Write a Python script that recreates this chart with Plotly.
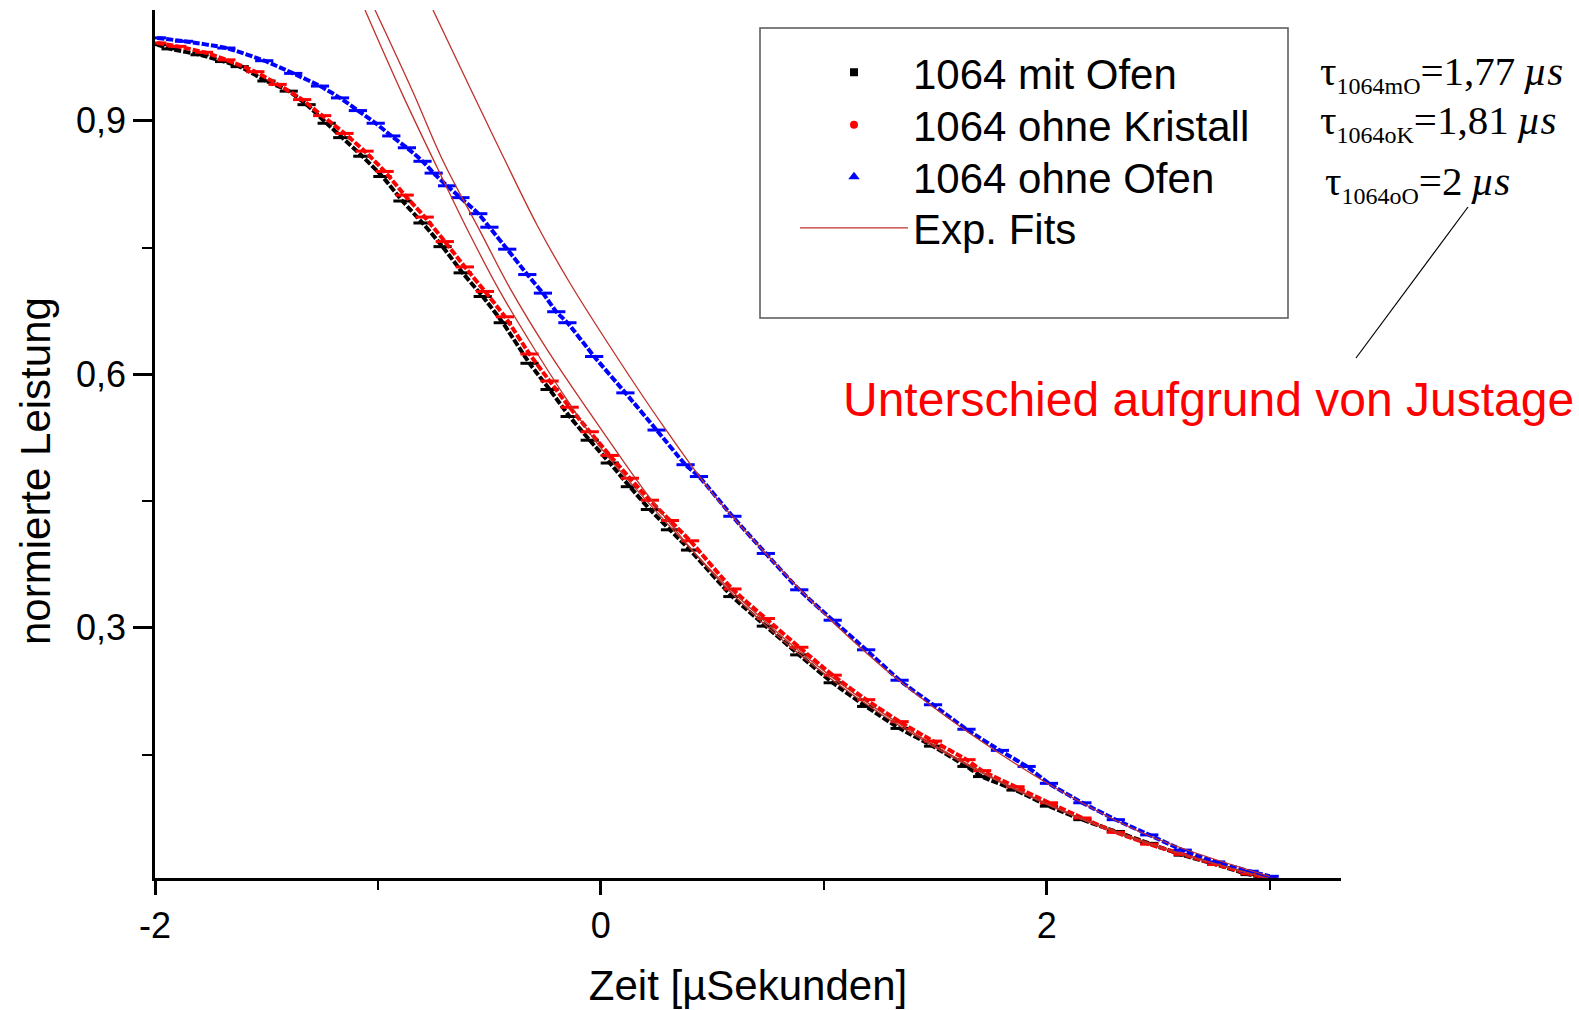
import plotly.graph_objects as go

# ---------------- data ----------------
x_mit_ofen = [-1.99, -1.93, -1.80, -1.69, -1.62, -1.50, -1.40, -1.32, -1.23, -1.16, -1.07,
              -0.98, -0.89, -0.80, -0.71, -0.62, -0.53, -0.44, -0.32, -0.23, -0.14, -0.05,
              0.04, 0.13, 0.22, 0.31, 0.40, 0.59, 0.74, 0.89, 1.04, 1.19, 1.34, 1.49, 1.64,
              1.71, 1.86, 2.01, 2.16, 2.31, 2.46, 2.61, 2.76, 2.91, 2.99]
y_mit_ofen = [0.990, 0.985, 0.978, 0.970, 0.964, 0.947, 0.935, 0.919, 0.897, 0.880, 0.858,
              0.834, 0.805, 0.779, 0.751, 0.720, 0.692, 0.661, 0.613, 0.582, 0.550, 0.522,
              0.495, 0.467, 0.440, 0.416, 0.392, 0.337, 0.302, 0.268, 0.235, 0.207, 0.181,
              0.160, 0.136, 0.124, 0.108, 0.089, 0.073, 0.059, 0.045, 0.031, 0.020, 0.008, 0.004]

x_ohne_kristall = [-1.99, -1.90, -1.78, -1.68, -1.55, -1.45, -1.34, -1.25, -1.15, -1.06, -0.97,
                   -0.88, -0.79, -0.70, -0.61, -0.52, -0.43, -0.32, -0.23, -0.14, -0.05, 0.04,
                   0.13, 0.22, 0.31, 0.40, 0.59, 0.74, 0.89, 1.04, 1.19, 1.34, 1.49, 1.64, 1.71,
                   1.86, 2.01, 2.16, 2.31, 2.46, 2.61, 2.76, 2.91, 2.99]
y_ohne_kristall = [0.992, 0.988, 0.981, 0.972, 0.958, 0.943, 0.925, 0.906, 0.885, 0.864, 0.840,
                   0.812, 0.786, 0.757, 0.727, 0.698, 0.668, 0.624, 0.592, 0.561, 0.532, 0.504,
                   0.477, 0.451, 0.427, 0.403, 0.346, 0.311, 0.277, 0.244, 0.215, 0.189, 0.166,
                   0.144, 0.131, 0.112, 0.093, 0.075, 0.058, 0.044, 0.032, 0.020, 0.009, 0.004]

x_ohne_ofen = [-1.99, -1.87, -1.68, -1.51, -1.38, -1.26, -1.17, -1.09, -1.01, -0.94, -0.87,
               -0.80, -0.75, -0.69, -0.63, -0.55, -0.50, -0.42, -0.33, -0.26, -0.20, -0.15,
               -0.03, 0.11, 0.25, 0.38, 0.44, 0.59, 0.74, 0.89, 1.04, 1.19, 1.34, 1.49, 1.64,
               1.79, 1.91, 2.01, 2.16, 2.31, 2.46, 2.61, 2.76, 2.91, 3.00]
y_ohne_ofen = [0.998, 0.994, 0.986, 0.971, 0.956, 0.941, 0.927, 0.912, 0.897, 0.882, 0.868,
               0.852, 0.838, 0.823, 0.809, 0.790, 0.774, 0.748, 0.718, 0.696, 0.674, 0.661,
               0.621, 0.578, 0.534, 0.493, 0.479, 0.432, 0.388, 0.345, 0.309, 0.274, 0.238,
               0.209, 0.180, 0.155, 0.136, 0.116, 0.093, 0.073, 0.055, 0.037, 0.023, 0.012, 0.006]

# exponential fit curves
x_fit_a = [-1.058, -0.888, -0.735, -0.587, -0.453, -0.296, -0.150, -0.004, 0.22, 0.59, 1.04, 1.49, 2.01, 2.46, 3.00]
y_fit_a = [1.031, 0.930, 0.845, 0.765, 0.698, 0.629, 0.569, 0.514, 0.446, 0.343, 0.241, 0.162, 0.091, 0.045, 0.003]
x_fit_b = [-1.013, -0.843, -0.709, -0.543, -0.408, -0.238, 0.004, 0.251, 0.59, 1.04, 1.49, 2.01, 2.46, 3.00]
y_fit_b = [1.031, 0.934, 0.853, 0.770, 0.702, 0.628, 0.534, 0.443, 0.340, 0.238, 0.160, 0.090, 0.044, 0.003]
x_fit_c = [-0.753, -0.587, -0.439, -0.287, -0.139, 0.063, 0.274, 0.489, 0.74, 1.04, 1.34, 1.64, 2.01, 2.46, 3.00]
y_fit_c = [1.031, 0.939, 0.858, 0.777, 0.708, 0.624, 0.541, 0.463, 0.388, 0.307, 0.237, 0.178, 0.115, 0.054, 0.006]

series_names = ["1064 mit Ofen", "1064 ohne Kristall", "1064 ohne Ofen"]
fit_name = "Exp. Fits"
x_tickvals = [-2, 0, 2]
x_ticktext = ["-2", "0", "2"]
tau_labels = ["τ<sub><span style='font-size:24px'>1064mO</span></sub>=1,77\u2009<i>µs</i>",
              "τ<sub><span style='font-size:24px'>1064oK</span></sub>=1,81\u2009<i>µs</i>",
              "τ<sub><span style='font-size:24px'>1064oO</span></sub>=2\u2009<i>µs</i>"]
note_text = "Unterschied aufgrund von Justage"
x_title = "Zeit [µSekunden]"
y_title = "normierte Leistung"

# ---------------- figure ----------------
SANS = "Liberation Sans, Arial, sans-serif"
SERIF = "Liberation Serif, Times New Roman, serif"
FIT_COLOR = "#c0302a"

fig = go.Figure()

data_sets = [
    (x_mit_ofen, y_mit_ofen, "#000000", "square", 8),
    (x_ohne_kristall, y_ohne_kristall, "#ff0000", "circle", 8),
    (x_ohne_ofen, y_ohne_ofen, "#0000ff", "triangle-up", 10),
]
legend_ids = ["legend", "legend2", "legend3", "legend4"]

for (xs, ys, col, sym, sz), name in zip(data_sets, series_names):
    fig.add_trace(go.Scatter(
        x=xs, y=ys, mode="lines+markers", name=name, showlegend=False,
        line=dict(color=col, width=4, shape="spline", smoothing=0.6, dash="7px,2px"),
        marker=dict(symbol="line-ew-open", size=13, line=dict(color=col, width=3)),
        hoverinfo="x+y+name",
    ))

# legend-only marker entries (one legend box per row so the rows match the reference spacing)
for (xs, ys, col, sym, sz), name, lid in zip(data_sets, series_names, legend_ids):
    fig.add_trace(go.Scatter(
        x=[None], y=[None], mode="markers", name=name, legend=lid,
        marker=dict(symbol=sym, size=sz, color=col, line=dict(width=0)),
    ))

for i, (xs, ys) in enumerate([(x_fit_a, y_fit_a), (x_fit_b, y_fit_b), (x_fit_c, y_fit_c)]):
    fig.add_trace(go.Scatter(
        x=xs, y=ys, mode="lines", name=fit_name, showlegend=(i == 0), legend=legend_ids[3],
        line=dict(color=FIT_COLOR, width=1.3, shape="spline", smoothing=1.0),
        cliponaxis=True,
    ))

W, H = 1579, 1010
ML, MR, MT, MB = 155, 238, 10, 132
PW, PH = W - ML - MR, H - MT - MB


def px_to_paper(px, py):
    return (px - ML) / PW, (H - MB - py) / PH


legend_tops = [38.5, 91, 143, 194]
legend_layout = {}
for lid, top in zip(legend_ids, legend_tops):
    legend_layout[lid] = dict(
        x=px_to_paper(795, 0)[0], y=px_to_paper(0, top)[1],
        xanchor="left", yanchor="top",
        bgcolor="rgba(0,0,0,0)", borderwidth=0,
        font=dict(family=SANS, size=42, color="black"),
        itemwidth=108, tracegroupgap=0, itemclick=False, itemdoubleclick=False,
    )

fig.update_layout(
    width=W, height=H,
    margin=dict(l=ML, r=MR, t=MT, b=MB, pad=0),
    paper_bgcolor="white", plot_bgcolor="white",
    separators=",.",
    font=dict(family=SANS, size=36, color="black"),
    showlegend=True,
    **legend_layout,
    xaxis=dict(
        range=[-2, 3.32], showgrid=False, zeroline=False, automargin=False,
        showline=True, linecolor="black", linewidth=2.5,
        tickmode="array", tickvals=x_tickvals, ticktext=x_ticktext,
        ticks="outside", ticklen=14, tickwidth=2.5, tickcolor="black",
        minor=dict(dtick=1, tick0=-2, ticks="outside", ticklen=9, tickwidth=2, tickcolor="black"),
        tickfont=dict(family=SANS, size=36, color="black"),
        title=dict(text=x_title, font=dict(family=SANS, size=42, color="black"), standoff=26),
    ),
    yaxis=dict(
        range=[0.004, 1.031], showgrid=False, zeroline=False, automargin=False,
        showline=True, linecolor="black", linewidth=2.5,
        ticks="outside", tick0=0.3, dtick=0.3, ticklen=19, tickwidth=2.5, tickcolor="black",
        minor=dict(dtick=0.15, tick0=0.15, ticks="outside", ticklen=10, tickwidth=2, tickcolor="black"),
        tickfont=dict(family=SANS, size=36, color="black"),
        tickformat=".1f",
    ),
)

# y-axis title (placed as in the reference, slightly below the plot centre)
tx, ty = px_to_paper(35, 471)
fig.add_annotation(xref="paper", yref="paper", x=tx, y=ty, xanchor="center", yanchor="middle",
                   text=y_title, textangle=-90, showarrow=False,
                   font=dict(family=SANS, size=42, color="black"))

# legend frame
lx0, ly0 = px_to_paper(760, 318)
lx1, ly1 = px_to_paper(1288, 28)
fig.add_shape(type="rect", xref="paper", yref="paper", x0=lx0, y0=ly0, x1=lx1, y1=ly1,
              line=dict(color="#555555", width=1.5), fillcolor="rgba(0,0,0,0)", layer="above")

# tau annotations
tau_pos = [(1318, 73), (1318, 122), (1323, 183)]
for txt, (px, py) in zip(tau_labels, tau_pos):
    ax, ay = px_to_paper(px, py)
    fig.add_annotation(xref="paper", yref="paper", x=ax, y=ay, xanchor="left", yanchor="middle",
                       text=txt, showarrow=False,
                       font=dict(family=SERIF, size=41, color="black"))

# leader line
p0 = px_to_paper(1356, 358)
p1 = px_to_paper(1468, 207)
fig.add_shape(type="line", xref="paper", yref="paper", x0=p0[0], y0=p0[1], x1=p1[0], y1=p1[1],
              line=dict(color="black", width=1.2))

# red note
nx, ny = px_to_paper(1208, 399)
fig.add_annotation(xref="paper", yref="paper", x=nx, y=ny, xanchor="center", yanchor="middle",
                   text=note_text, showarrow=False,
                   font=dict(family=SANS, size=48, color="#ff0000"))

fig.write_html("out.html", config={"displayModeBar": False},
               post_script="document.body.style.margin='0px';")
